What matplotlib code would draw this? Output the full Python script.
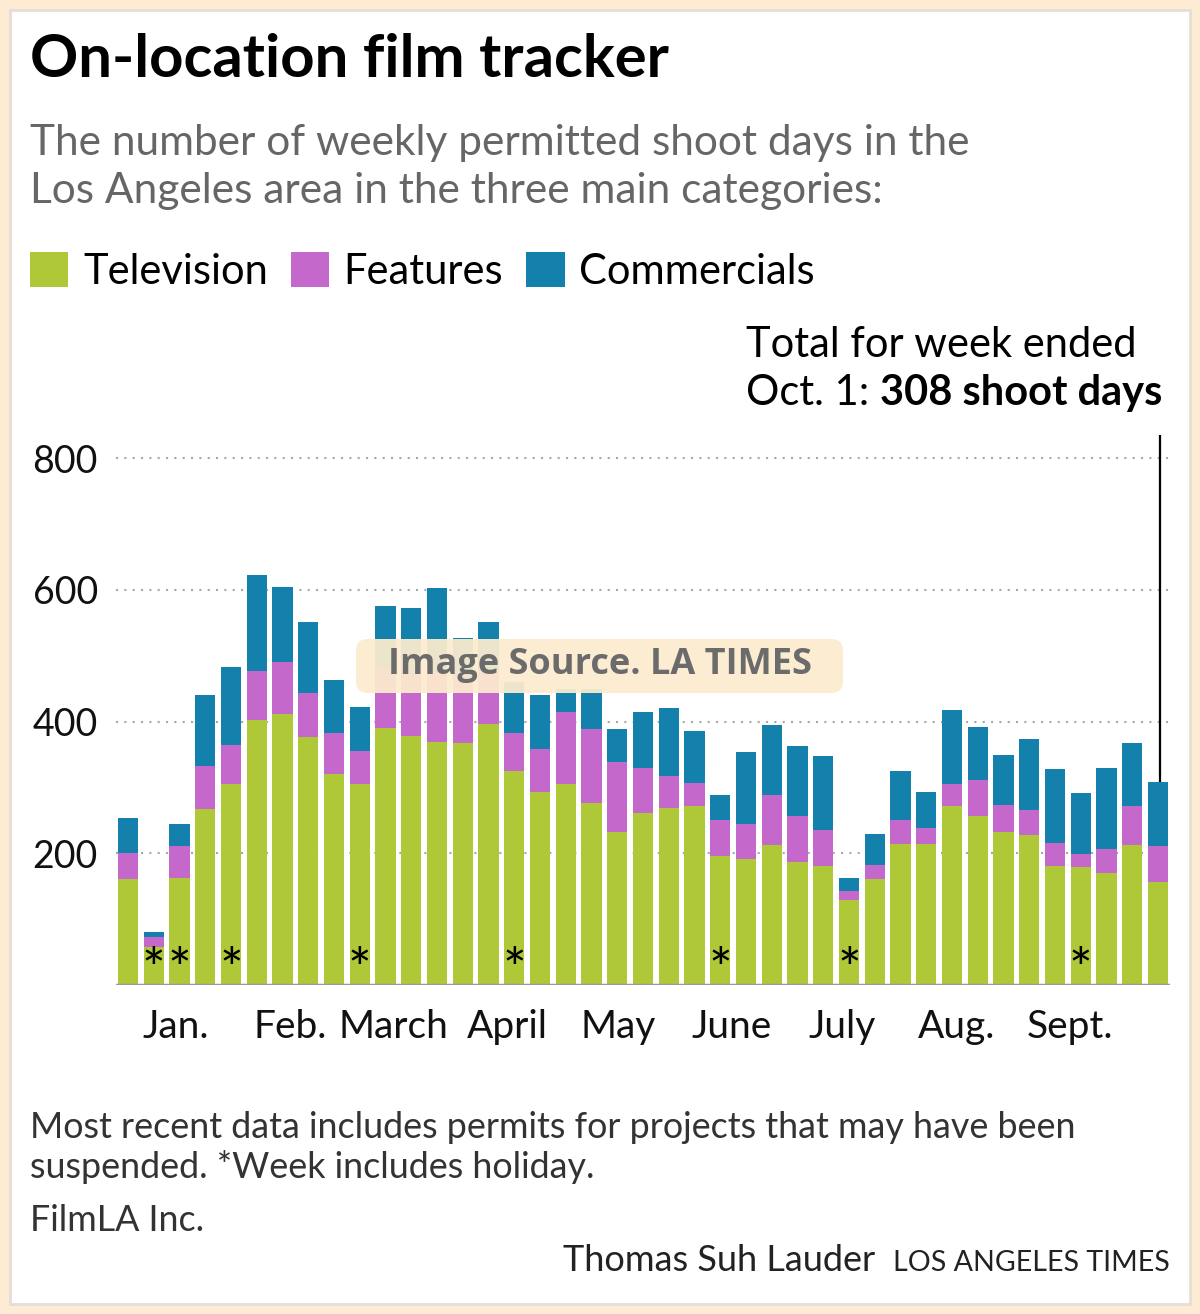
import matplotlib
matplotlib.use("Agg")
import matplotlib.pyplot as plt
from matplotlib.patches import Rectangle, FancyBboxPatch
import numpy as np

# weekly permitted shoot days, Jan. to week ended Oct. 1
television = [161, 57, 162, 267, 305, 402, 412, 377, 321, 305,
              390, 378, 369, 368, 396, 325, 293, 305, 276, 232,
              261, 269, 271, 196, 191, 212, 186, 180, 129, 161,
              214, 214, 271, 257, 232, 227, 180, 179, 170, 213, 156]
features = [39, 16, 49, 65, 59, 75, 78, 66, 61, 51,
            90, 94, 106, 102, 82, 57, 65, 109, 113, 106,
            68, 48, 35, 54, 53, 76, 70, 55, 14, 21,
            37, 24, 34, 54, 41, 39, 35, 20, 37, 59, 55]
commercials = [53, 8, 33, 109, 119, 146, 114, 108, 81, 66,
               95, 101, 127, 57, 73, 78, 82, 36, 61, 50,
               85, 103, 80, 38, 110, 106, 107, 112, 19, 48,
               74, 55, 113, 81, 76, 108, 113, 92, 123, 96, 97]
holiday_weeks = [1, 2, 4, 9, 15, 23, 28, 37]
month_ticks = [1.86, 6.29, 10.29, 14.72, 19.03, 23.46, 27.73, 32.16, 36.58]
month_labels = ["Jan.", "Feb.", "March", "April", "May", "June", "July", "Aug.", "Sept."]
y_ticks = [200, 400, 600, 800]

GREEN = "#afc837"
PINK = "#c468cc"
BLUE = "#1481ad"
FRAME = "#fdebd3"

W, H = 1200, 1314
plt.rcParams["font.family"] = ["Lato", "DejaVu Sans"]

fig = plt.figure(figsize=(W / 100, H / 100), dpi=100, facecolor=FRAME)
inch = fig.dpi_scale_trans


def px(x, y):
    # pixel position (from top-left) -> inches from bottom-left
    return x / 100, (H - y) / 100


fig.add_artist(Rectangle(px(10, 1304), 11.8, 12.94, transform=inch,
                         facecolor="white", edgecolor="#e4ded6", lw=2, zorder=-5))

ax = fig.add_axes([115.9 / W, (H - 985) / H, (1169.6 - 115.9) / W, 550 / H])
ax.set_facecolor("none")

x = np.arange(len(television))
tv = np.array(television)
ft = np.array(features)
cm = np.array(commercials)
total = tv + ft + cm

b1 = ax.bar(x, tv, 0.78, color=GREEN, label="Television", zorder=2)
b2 = ax.bar(x, ft, 0.78, bottom=tv, color=PINK, label="Features", zorder=2)
b3 = ax.bar(x, cm, 0.78, bottom=tv + ft, color=BLUE, label="Commercials", zorder=2)

ax.set_xlim(-0.47, len(x) - 0.55)
ax.set_ylim(0, 835)
for s in ax.spines.values():
    s.set_visible(False)
ax.set_yticks(y_ticks)
ax.yaxis.grid(True, linestyle=(0, (1, 3)), lw=1.5, color="#a8a8a8")
ax.set_axisbelow(True)
ax.axhline(0, color="#9a9a9a", lw=2.5, zorder=3)
ax.tick_params(axis="y", length=0, labelsize=27, pad=13, labelcolor="#111111")
ax.set_xticks(month_ticks, month_labels)
ax.tick_params(axis="x", length=0, labelsize=28, pad=17, labelcolor="#111111")

for i in holiday_weeks:
    ax.text(i, 19, "*", ha="center", va="center", fontsize=40, color="black", zorder=4)

# pointer to the latest week
ax.vlines(x[-1] + 0.08, total[-1], 835, color="black", lw=1.6, clip_on=False, zorder=4)

fig.text(*px(746, 357), "Total for week ended", transform=inch, fontsize=30, va="baseline")
t = fig.text(*px(746, 405), "Oct. 1:", transform=inch, fontsize=30, va="baseline")
ax.annotate(f"{total[-1]} shoot days", xy=(1, 0), xycoords=t, xytext=(8, 0),
            textcoords="offset points", va="bottom", ha="left",
            fontsize=30, weight="bold", annotation_clip=False)

# header
fig.text(*px(30, 77), "On-location film tracker", transform=inch,
         fontsize=43, weight="bold", va="baseline")
fig.text(*px(30, 155), "The number of weekly permitted shoot days in the", transform=inch,
         fontsize=30.5, color="#666666", va="baseline")
fig.text(*px(30, 203), "Los Angeles area in the three main categories:", transform=inch,
         fontsize=30.5, color="#666666", va="baseline")

fig.legend(handles=[b1, b2, b3], loc="upper left", bbox_to_anchor=px(30, 252),
           bbox_transform=inch, ncol=3, frameon=False, fontsize=30,
           handlelength=0.92, handleheight=0.92, handletextpad=0.35,
           columnspacing=0.55, borderpad=0, borderaxespad=0)

# footer
fig.text(*px(30, 1138), "Most recent data includes permits for projects that may have been",
         transform=inch, fontsize=25.8, color="#333333", va="baseline")
fig.text(*px(30, 1178), "suspended. *Week includes holiday.",
         transform=inch, fontsize=25.8, color="#333333", va="baseline")
fig.text(*px(30, 1231), "FilmLA Inc.", transform=inch, fontsize=25.8, color="#333333", va="baseline")
fig.text(*px(875, 1271), "Thomas Suh Lauder", transform=inch, fontsize=26,
         color="#222222", ha="right", va="baseline")
fig.text(*px(1170, 1271), "LOS ANGELES TIMES", transform=inch, fontsize=20.6,
         color="#222222", ha="right", va="baseline")

# watermark
fig.add_artist(FancyBboxPatch(px(356, 693), 4.87, 0.54, transform=inch,
                              boxstyle="round,pad=0,rounding_size=0.12",
                              facecolor="#fcebcf", edgecolor="none", alpha=0.94, zorder=5))
fig.text(*px(600, 665), "Image Source. LA TIMES", transform=inch, ha="center", va="center",
         fontsize=26, weight="bold", color="#6b6b6b",
         family=["Open Sans", "DejaVu Sans"], zorder=6)

fig.savefig("out.png", dpi=100, facecolor=FRAME)
